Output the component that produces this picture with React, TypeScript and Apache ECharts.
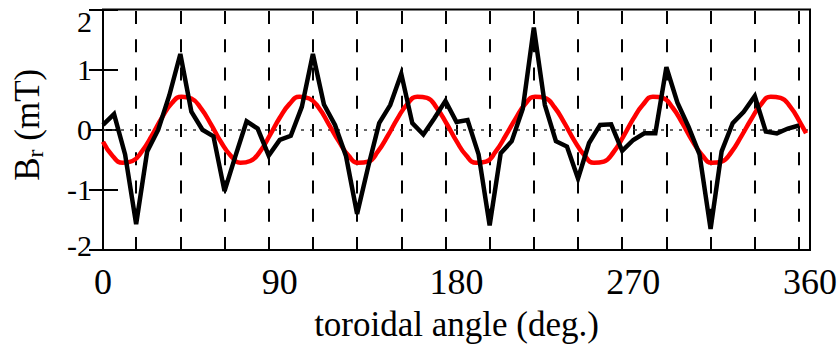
import React, { useEffect, useRef } from "react";
import * as echarts from "echarts";

// Black curve: measured Br sampled every 360/64 degrees starting at 0
const SAMPLE_STEP = 5.625;
const blackValues = [
  0.08, 0.26, -0.41, -1.57, -0.36, 0.0, 0.57, 1.26,
  0.3, 0.0, -0.11, -1.02, -0.43, 0.14, 0.02, -0.43,
  -0.17, -0.1, 0.38, 1.26, 0.42, 0.08, -0.44, -1.4,
  -0.62, 0.11, 0.41, 0.93, 0.11, -0.08, 0.19, 0.48,
  0.13, 0.16, -0.41, -1.59, -0.39, -0.19, 0.35, 1.7,
  0.41, -0.19, -0.28, -0.81, -0.22, 0.08, 0.09, -0.35,
  -0.17, -0.06, -0.06, 1.04, 0.45, 0.05, -0.41, -1.65,
  -0.36, 0.11, 0.3, 0.56, -0.03, -0.06, 0.02, 0.07,
];

// Red curve: read every 5 degrees
const redAngles = [
  0, 5, 10, 15, 20, 25, 30, 35, 40, 45, 50, 55,
  60, 65, 70, 75, 80, 85, 90, 95, 100, 105, 110, 115,
  120, 125, 130, 135, 140, 145, 150, 155, 160, 165, 170, 175,
  180, 185, 190, 195, 200, 205, 210, 215, 220, 225, 230, 235,
  240, 245, 250, 255, 260, 265, 270, 275, 280, 285, 290, 295,
  300, 305, 310, 315, 320, 325, 330, 335, 340, 345, 350, 355,
  358,
];
const redValues = [
  -0.2, -0.44, -0.55, -0.52, -0.35, -0.09, 0.2, 0.44, 0.55, 0.52, 0.35, 0.09,
  -0.2, -0.43, -0.55, -0.52, -0.36, -0.09, 0.2, 0.43, 0.55, 0.52, 0.36, 0.09,
  -0.19, -0.43, -0.55, -0.53, -0.36, -0.1, 0.19, 0.43, 0.55, 0.53, 0.36, 0.1,
  -0.19, -0.43, -0.55, -0.53, -0.36, -0.1, 0.18, 0.43, 0.55, 0.53, 0.37, 0.11,
  -0.18, -0.42, -0.55, -0.53, -0.37, -0.11, 0.18, 0.42, 0.55, 0.53, 0.37, 0.11,
  -0.18, -0.42, -0.55, -0.53, -0.37, -0.11, 0.17, 0.42, 0.55, 0.53, 0.38, 0.12,
  -0.06,
];

// Vertical dashed reference lines (degrees)
const dashedAngles = [
  16.875, 39.375, 61.875, 84.375, 106.875, 129.375, 151.875, 174.375,
  196.875, 219.375, 241.875, 264.375, 286.875, 309.375, 331.875, 354.375,
];

const xTitle = "toroidal angle (deg.)";
const FONT = "'Liberation Serif', 'Times New Roman', serif";

export default function App() {
  const ref = useRef<HTMLDivElement>(null);
  useEffect(() => {
    if (!ref.current) return;
    const chart = echarts.init(ref.current, undefined, { renderer: "svg" });
    const blackData = blackValues.map((v, i) => [i * SAMPLE_STEP, v]);
    const redData = redValues.map((v, i) => [redAngles[i], v]);
    chart.setOption({
      animation: false,
      grid: {
        left: 103,
        right: 30,
        top: 9.5,
        bottom: 93.5,
        show: true,
        borderColor: "#000",
        borderWidth: 2,
      },
      xAxis: [
        {
          type: "value",
          min: 0,
          max: 360,
          interval: 90,
          position: "bottom",
          axisLine: { show: false },
          axisTick: { inside: true, length: 5, lineStyle: { color: "#000", width: 2 } },
          axisLabel: { fontSize: 36, fontFamily: FONT, color: "#000", margin: 14 },
          splitLine: { show: false },
          name: xTitle,
          nameLocation: "middle",
          nameGap: 57,
          nameTextStyle: { fontSize: 35, fontFamily: FONT, color: "#000" },
        },
        {
          type: "value",
          min: 0,
          max: 360,
          interval: 90,
          position: "top",
          axisLine: { show: false },
          axisTick: { inside: true, length: 5, lineStyle: { color: "#000", width: 2 } },
          axisLabel: { show: false },
          splitLine: { show: false },
        },
      ],
      yAxis: [
        {
          type: "value",
          min: -2,
          max: 2,
          interval: 1,
          position: "left",
          axisLine: { show: false },
          axisTick: { inside: true, length: 15, lineStyle: { color: "#000", width: 2 } },
          axisLabel: {
            fontSize: 30,
            fontFamily: FONT,
            color: "#000",
            margin: 11,
            formatter: (v: number) =>
              v === 2 ? "{top|2}" : v === -2 ? "{bot|-2}" : String(v),
            rich: {
              top: { fontSize: 30, fontFamily: FONT, color: "#000", padding: [24, 0, 0, 0] },
              bot: { fontSize: 30, fontFamily: FONT, color: "#000", padding: [0, 0, 10, 0] },
            },
          },
          splitLine: { show: false },
          name: "{b|B}{s|r}{b| (mT)}",
          nameLocation: "middle",
          nameRotate: 90,
          nameGap: 56,
          nameTextStyle: {
            padding: [0, 0, 0, 10],
            rich: {
              b: { fontSize: 35, fontFamily: FONT, color: "#000" },
              s: { fontSize: 24, fontFamily: FONT, color: "#000", padding: [16, 0, 0, 0] },
            },
          },
        },
        {
          type: "value",
          min: -2,
          max: 2,
          interval: 1,
          position: "right",
          axisLine: { show: false },
          axisTick: { inside: true, length: 14, lineStyle: { color: "#000", width: 2 } },
          axisLabel: { show: false },
          splitLine: { show: false },
        },
      ],
      series: [
        {
          name: "guides",
          type: "line",
          data: [],
          z: 1,
          markLine: {
            silent: true,
            symbol: ["none", "none"],
            label: { show: false },
            z: 1,
            animation: false,
            data: [
              ...dashedAngles.map((a) => ({
                xAxis: a,
                lineStyle: { color: "#000", width: 2, type: [13, 15.25] },
              })),
              { yAxis: 0, lineStyle: { color: "#333", width: 1.5, type: [3, 6] } },
            ],
          },
        },
        {
          name: "red",
          type: "line",
          data: redData,
          smooth: true,
          showSymbol: false,
          symbol: "none",
          z: 2,
          lineStyle: { color: "#f00", width: 4.5 },
        },
        {
          name: "black",
          type: "line",
          data: blackData,
          showSymbol: false,
          symbol: "none",
          z: 3,
          lineStyle: { color: "#000", width: 4.5, join: "miter" },
        },
      ],
    });
    return () => chart.dispose();
  }, []);
  return (
    <div
      ref={ref}
      style={{ position: "fixed", left: 0, top: 0, width: 840, height: 347, background: "#fff" }}
    />
  );
}
